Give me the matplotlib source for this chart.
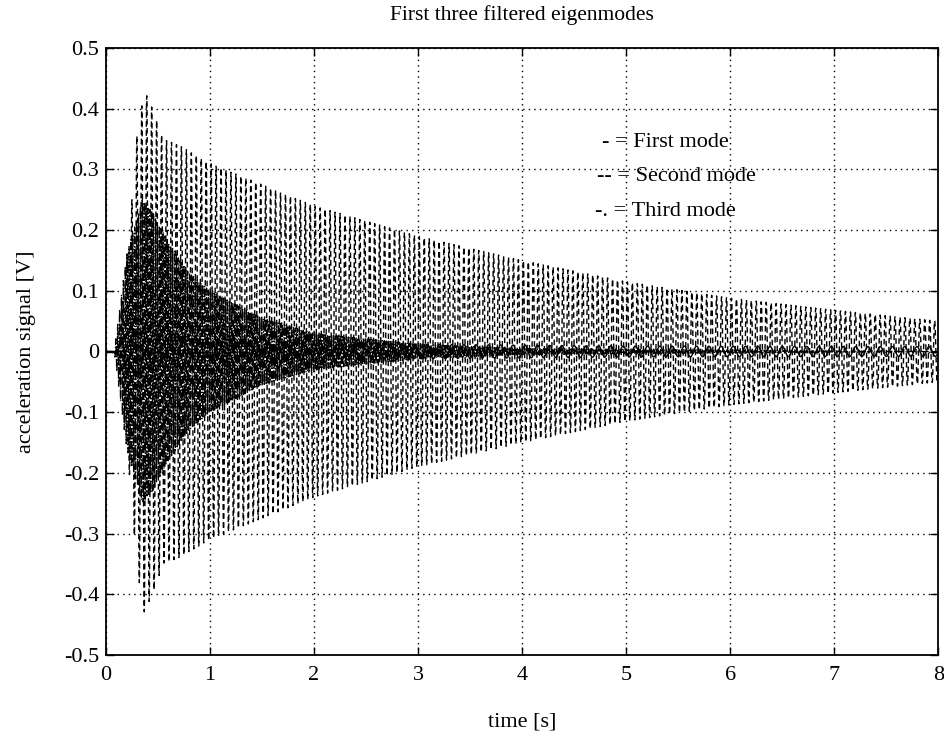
#!/usr/bin/python3

import numpy
import matplotlib
matplotlib.use("Agg")
import matplotlib.pyplot as plt

# Envelope of each mode: (time [s], peak amplitude [V])
firstModeTimes = [0.0, 0.08, 0.2, 0.5, 1.0, 2.0, 3.0, 5.0, 8.0]
firstModeAmps = [0.0, 0.0, 0.04, 0.03, 0.02, 0.014, 0.012, 0.009, 0.008]
firstModeFreq = 8.5

secondModeTimes = [0.0, 0.1, 0.2, 0.25, 0.3, 0.37, 0.45, 0.55, 0.7, 1.0, 1.5, 2.0, 3.0, 4.0, 5.0, 6.0, 7.0, 8.0]
secondModeAmps = [0.0, 0.0, 0.15, 0.25, 0.36, 0.43, 0.40, 0.35, 0.34, 0.31, 0.275, 0.24, 0.19, 0.15, 0.115, 0.088, 0.068, 0.05]
secondModeFreq = 21.0

thirdModeTimes = [0.0, 0.08, 0.2, 0.35, 0.45, 0.6, 0.8, 1.0, 1.5, 2.0, 3.0, 4.0, 8.0]
thirdModeAmps = [0.0, 0.0, 0.16, 0.25, 0.23, 0.18, 0.13, 0.10, 0.055, 0.03, 0.012, 0.005, 0.0]
thirdModeFreq = 55.0

legendLines = ["- = First mode", "-- = Second mode", "-. = Third mode"]
legendX = [4.77, 4.72, 4.70]
legendY = [0.345, 0.288, 0.230]

xTicks = [0, 1, 2, 3, 4, 5, 6, 7, 8]
yTicks = [-0.5, -0.4, -0.3, -0.2, -0.1, 0, 0.1, 0.2, 0.3, 0.4, 0.5]
yTickLabels = ["-0.5", "-0.4", "-0.3", "-0.2", "-0.1", "0", "0.1", "0.2", "0.3", "0.4", "0.5"]


def buildMode(timeList, envTimes, envAmps, freq):
    envelope = numpy.interp(timeList, envTimes, envAmps)
    return envelope * numpy.sin(2 * numpy.pi * freq * timeList)


plt.rcParams["font.family"] = ["Liberation Serif", "DejaVu Serif"]

timeList = numpy.arange(0, 8.0, 0.001)
firstMode = buildMode(timeList, firstModeTimes, firstModeAmps, firstModeFreq)
secondMode = buildMode(timeList, secondModeTimes, secondModeAmps, secondModeFreq)
thirdMode = buildMode(timeList, thirdModeTimes, thirdModeAmps, thirdModeFreq)

fig = plt.figure(figsize=(9.45, 7.4), dpi=100)
ax = fig.add_axes([0.112, 0.115, 0.881, 0.820])

ax.plot(timeList, secondMode, color="black", linewidth=1.0, linestyle=(0, (4, 2.5)))
ax.plot(timeList, thirdMode, color="black", linewidth=0.9, linestyle="-.")
ax.plot(timeList, firstMode, color="black", linewidth=1.0, linestyle="-")

ax.set_xlim(0, 8)
ax.set_ylim(-0.5, 0.5)
ax.set_xticks(xTicks)
ax.set_yticks(yTicks)
ax.set_yticklabels(yTickLabels)
ax.tick_params(direction="in", top=True, right=True, labelsize=16, length=6, width=1)
ax.tick_params(axis="x", pad=8)
ax.tick_params(axis="y", pad=5)
ax.grid(True, color="black", linestyle=(0, (1, 3)), linewidth=1.0)
for spine in ax.spines.values():
    spine.set_linewidth(1.3)

for text, x, y in zip(legendLines, legendX, legendY):
    ax.text(x, y, text, fontsize=16, va="center", ha="left")

ax.set_title("First three filtered eigenmodes", fontsize=15.5, pad=20)
ax.set_xlabel("time [s]", fontsize=16, labelpad=20)
ax.set_ylabel("acceleration signal [V]", fontsize=16, labelpad=20)

fig.savefig("out.png", dpi=100)
